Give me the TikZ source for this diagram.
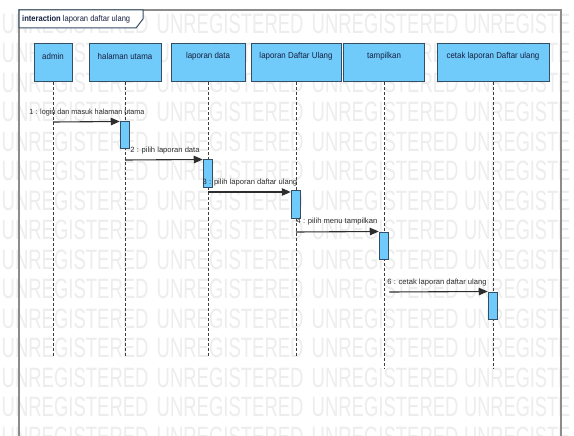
\documentclass[tikz,border=0pt]{standalone}
\usepackage{fontspec}
\usepackage{graphicx}
\setmainfont{Liberation Sans}
\usetikzlibrary{arrows.meta}
\definecolor{boxfill}{RGB}{112,202,250}
\definecolor{boxline}{RGB}{52,78,100}
\definecolor{txt}{RGB}{22,32,64}
\definecolor{framec}{RGB}{140,140,140}
\definecolor{wm}{RGB}{237,237,237}
\definecolor{msgc}{RGB}{45,45,45}
\definecolor{lifec}{RGB}{60,60,60}
\begin{document}
\begin{tikzpicture}[x=1pt,y=-1pt,
  wmark/.style={anchor=west,inner sep=0pt,text=wm,font=\fontsize{28}{30}\selectfont},
  headbox/.style={draw=boxline,fill=boxfill,line width=1pt,minimum height=38pt,inner sep=0pt},
  headtxt/.style={inner sep=0pt,text=txt,font=\fontsize{8.6}{10}\selectfont},
  lifeln/.style={draw=lifec,line width=0.8pt,dash pattern=on 3pt off 2pt},
  actbox/.style={draw=boxline,fill=boxfill,line width=1pt,minimum width=9.5pt,inner sep=0pt},
  msg/.style={draw=msgc,line width=1.1pt,-{Triangle[length=9pt,width=7.5pt]}},
  msgtxt/.style={inner sep=0pt,text=msgc,font=\fontsize{7.6}{9}\selectfont},
  tabtxt/.style={inner sep=0pt,anchor=west,text=txt,font=\fontsize{8.4}{10}\selectfont}
]
\clip (0,0) rectangle (574,436);
\fill[white] (0,0) rectangle (574,436);
% watermark
\foreach \r in {0,...,14}{
  \foreach \c in {0,...,2}{
    \node[wmark] (w\r-\c) at ({1.5+155*\c},{23.5+29.5*\r}) {\scalebox{0.66}[1]{UNREGISTERED}};
  }
  \node[wmark] (w\r-3) at (464,{23.5+29.5*\r}) {\scalebox{0.65}[1]{UNREGISTE}};
}
% frame
\draw[framec,line width=1.5pt] (19,445) -- (19,10) -- (561,10) -- (561,445);
\draw[boxline,fill=white,line width=1pt] (19,10) -- (143,10) -- (143,19) -- (136,28) -- (19,28) -- cycle;
\node[tabtxt] (tab) at (22,19.5) {\scalebox{0.9}[1]{\textbf{interaction} laporan daftar ulang}};
% heads
\node[headbox,minimum width=38pt] (admin) at (53,63) {};
\node[headbox,minimum width=72pt] (hal) at (125,63) {};
\node[headbox,minimum width=74pt] (lapd) at (208,63) {};
\node[headbox,minimum width=90pt] (lapu) at (296,63) {};
\node[headbox,minimum width=81pt] (tamp) at (384,63) {};
\node[headbox,minimum width=112pt] (cetak) at (493,63) {};
\node[headtxt] (t1) at (53,56) {\scalebox{0.92}[1]{admin}};
\node[headtxt] (t2) at (125,56) {\scalebox{0.92}[1]{halaman utama}};
\node[headtxt] (t3) at (208,56) {\scalebox{0.92}[1]{laporan data}};
\node[headtxt] (t4) at (296,56) {\scalebox{0.92}[1]{laporan Daftar Ulang}};
\node[headtxt] (t5) at (384,56) {\scalebox{0.92}[1]{tampilkan}};
\node[headtxt] (t6) at (493,56) {\scalebox{0.92}[1]{cetak laporan Daftar ulang}};
% lifeline ends
\coordinate (e1) at (53,357);
\coordinate (e2) at (125,357);
\coordinate (e3) at (208,357);
\coordinate (e4) at (296,357);
\coordinate (e5) at (384,368);
\coordinate (e6) at (493,368);
\draw[lifeln] (admin.south) -- (e1);
\draw[lifeln] (hal.south) -- (e2);
\draw[lifeln] (lapd.south) -- (e3);
\draw[lifeln] (lapu.south) -- (e4);
\draw[lifeln] (tamp.south) -- (e5);
\draw[lifeln] (cetak.south) -- (e6);
% activations
\node[actbox,minimum height=27pt] (a1) at (125,135.5) {};
\node[actbox,minimum height=28pt] (a2) at (208,174) {};
\node[actbox,minimum height=27pt] (a3) at (296,204.5) {};
\node[actbox,minimum height=27pt] (a4) at (384,245.5) {};
\node[actbox,minimum height=27pt] (a6) at (493,305.5) {};
% message sources
\coordinate (s1) at (53,122);
\coordinate (s2) at (125,160);
\coordinate (s3) at (208,192);
\coordinate (s4) at (296,232);
\coordinate (s6) at (a4.east |- 0,292);
\draw[msg] (s1) -- (a1.north west);
\draw[msg] (s2) -- (a2.north west);
\draw[msg] (s3) -- (a3.north west |- s3);
\draw[msg] (s4) -- (a4.north west);
\draw[msg] (s6) -- (a6.north west);
% message labels
\node[msgtxt] (l1) at (87,113) {\scalebox{0.95}[1]{1 : login dan masuk halaman utama}};
\node[msgtxt] (l2) at (165,151) {2 : pilih laporan data};
\node[msgtxt] (l3) at (250,183) {3 : pilih laporan daftar ulang};
\node[msgtxt] (l4) at (337,222) {4 : pilih menu tampilkan};
\node[msgtxt] (l6) at (437,283) {6 : cetak laporan daftar ulang};
\end{tikzpicture}
\end{document}
